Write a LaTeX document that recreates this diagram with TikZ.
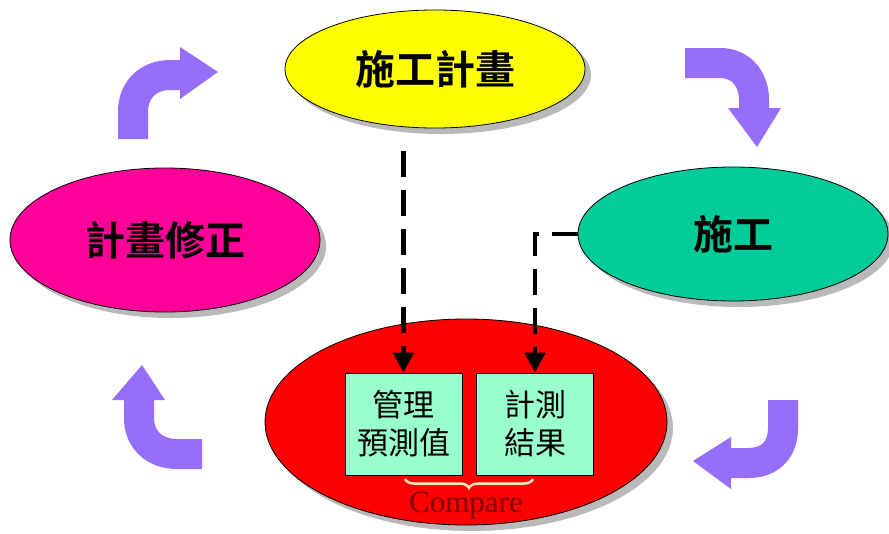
\documentclass[tikz,border=0pt]{standalone}
\usepackage{fontspec}
\setmainfont{Liberation Serif}
\newfontfamily\cjkb{Noto Sans CJK TC Bold}
\newfontfamily\cjk{Noto Sans CJK TC}
\usetikzlibrary{shapes.geometric,decorations.pathreplacing,shadows,arrows.meta}
\definecolor{purp}{RGB}{150,110,250}
\definecolor{yel}{RGB}{255,255,0}
\definecolor{pnk}{RGB}{255,0,153}
\definecolor{teal2}{RGB}{0,204,153}
\definecolor{boxc}{RGB}{153,255,204}
\definecolor{bracec}{RGB}{240,232,190}
\definecolor{dred}{RGB}{128,0,0}
\tikzset{
  oval/.style={ellipse, draw=black, line width=0.8pt, inner sep=0pt,
    drop shadow={shadow xshift=6pt, shadow yshift=-6pt, fill=gray!55, opacity=1}},
  bigtxt/.style={font=\cjkb\fontsize{40}{48}\selectfont},
  valbox/.style={rectangle, draw=black, line width=0.8pt, fill=boxc,
    minimum width=117pt, minimum height=102pt, inner sep=0pt, align=center,
    font=\cjk\fontsize{31}{38}\selectfont},
  dashline/.style={line width=4.5pt, dash pattern=on 26pt off 13pt, -{Triangle[length=20pt,width=20pt]}},
  shaft/.style={line width=30pt, draw=purp},
  head/.style={fill=purp},
}
\begin{document}
\begin{tikzpicture}[x=1pt,y=-1pt]
\useasboundingbox[fill=white] (0,0) rectangle (889,533);
% purple cycle arrows
\draw[shaft] (133,139) -- (133,112) .. controls (133,88) and (150,75) .. (170,75) -- (181,75);
\path[head] (180,47) -- (218,72) -- (180,99) -- cycle;
\draw[shaft] (685,63) -- (720,63) .. controls (742,63) and (754,80) .. (754,100) -- (754,109);
\path[head] (728,108) -- (781,108) -- (757,147) -- cycle;
\draw[shaft] (783,400) -- (783,428) .. controls (783,450) and (770,463) .. (748,463) -- (729,463);
\path[head] (731,437) -- (731,489) -- (693,461) -- cycle;
\draw[shaft] (202,454) -- (177,454) .. controls (155,454) and (139,440) .. (139,418) -- (139,399);
\path[head] (112,400) -- (165,400) -- (142,365) -- cycle;
% ellipses
\node[oval, fill=yel, minimum width=300pt, minimum height=118pt, bigtxt] (plan) at (435,69) {施工計畫};
\node[oval, fill=pnk, minimum width=310pt, minimum height=144pt, bigtxt] (revise) at (165,240) {計畫修正};
\node[oval, fill=teal2, minimum width=310pt, minimum height=134pt, bigtxt] (exec) at (733,234) {施工};
\node[oval, fill=red, minimum width=402pt, minimum height=206pt] (check) at (466,422) {};
% boxes
\node[valbox] (pred) at (403.5,424) {管理\\預測值};
\node[valbox] (meas) at (535,424) {計測\\結果};
% brace
\draw[bracec, line width=2.5pt, decorate, decoration={brace, amplitude=9pt, mirror}]
  (405,479) -- (533,479);
\node[font=\fontsize{31}{36}\selectfont, text=dred, inner sep=0pt] (cmp) at (466,506) {Compare};
% dashed connectors
\coordinate (d1) at (403.5,151);
\draw[dashline] (d1) -- (pred.north);
\draw[dashline] (exec.west) -| (meas.north);
\end{tikzpicture}
\end{document}
